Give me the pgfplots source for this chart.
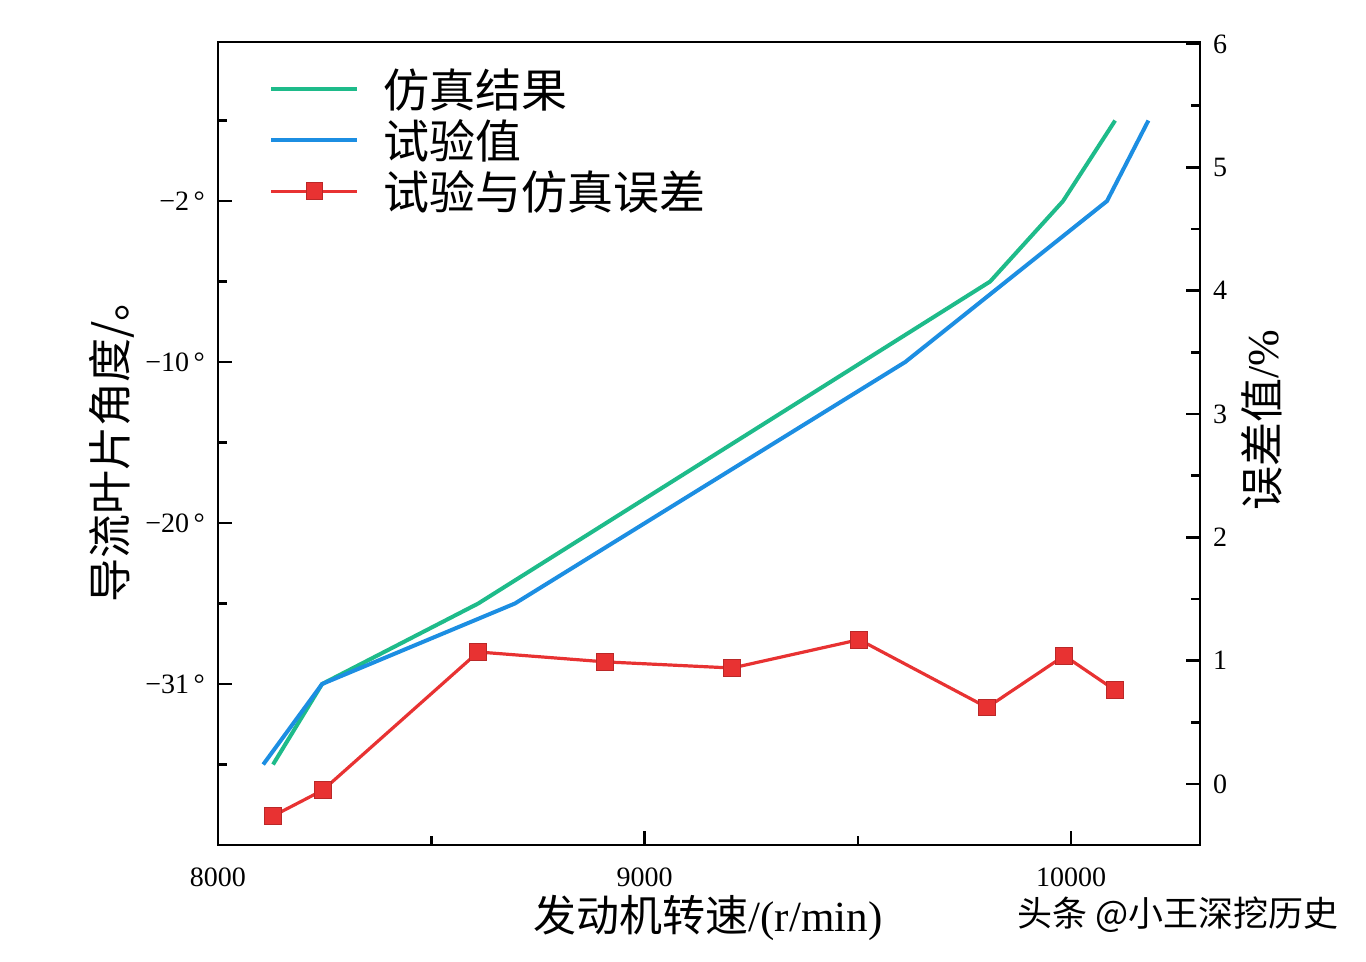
\documentclass[border=0pt]{standalone}
\usepackage{fontspec}
\setmainfont{Liberation Serif}
\newfontfamily\cjk{Noto Sans CJK SC}
\usepackage{pgfplots}
\pgfplotsset{compat=1.18}
\definecolor{simgreen}{RGB}{30,187,138}
\definecolor{expblue}{RGB}{28,142,226}
\definecolor{errred}{RGB}{232,50,50}
\begin{document}
\begin{tikzpicture}
\path[use as bounding box] (-109pt,-58.5pt) rectangle (574pt,422.5pt);
\pgfplotsset{
  common/.style={
    at={(0,0)}, anchor=south west,
    scale only axis, width=491pt, height=401.5pt,
    xmin=8000, xmax=10302,
    tick align=inside, major tick length=7pt, minor tick length=4.5pt,
    axis line style={line width=1.3pt},
    every tick/.style={black, line width=1.3pt},
    tick label style={font=\fontsize{14}{16}\selectfont},
    scaled ticks=false,
    /pgf/number format/assume math mode=true,
    /pgf/number format/set thousands separator={},
    clip=false,
  }
}
\begin{axis}[common,
  ymin=0, ymax=4.988,
  xtick pos=bottom, ytick pos=left,
  xtick={8000,9000,10000}, minor xtick={8500,9500},
  ytick={1,2,3,4}, yticklabels={−31\,°,−20\,°,−10\,°,−2\,°},
  minor ytick={0.5,1.5,2.5,3.5,4.5},
  xticklabel style={yshift=-8pt},
  yticklabel style={xshift=-3pt},
  xlabel={{\cjk 发动机转速}/(r/min)},
  xlabel style={at={(axis description cs:0.499,-0.091)}, anchor=center, font=\fontsize{21.5}{23}\selectfont},
  ylabel={\cjk 导流叶片角度/。},
  ylabel style={at={(axis description cs:-0.108,0.504)}, anchor=center, rotate=0, font=\fontsize{22}{24}\selectfont},
]
\addplot[simgreen, line width=2pt] coordinates {
  (8129,0.5) (8244,1.0) (8610,1.5) (9810,3.5) (9981,4.0) (10103,4.5)
};
\addplot[expblue, line width=2pt] coordinates {
  (8106,0.5) (8244,1.0) (8696,1.5) (9611,3.0) (10084,4.0) (10181,4.5)
};
\end{axis}
\begin{axis}[common,
  ymin=-0.495, ymax=6.016,
  axis x line=none, axis y line*=right,
  ytick={0,1,2,3,4,5,6}, minor ytick={0.5,1.5,2.5,3.5,4.5,5.5},
  yticklabel style={xshift=3pt},
  ylabel={{\cjk 误差值}/\%},
  ylabel style={at={(axis description cs:1.063,0.529)}, anchor=center, rotate=0, font=\fontsize{22}{24}\selectfont},
  legend style={at={(axis description cs:0.052,0.975)}, anchor=north west, draw=none, fill=none,
    font=\cjk\fontsize{23}{26}\selectfont, row sep=-1.5pt, inner sep=0pt,
    nodes={inner sep=3pt}},
  legend cell align=left,
  legend image code/.code={
    \draw[mark repeat=2,mark phase=2,#1] plot coordinates {(0pt,0pt) (21.5pt,0pt) (43pt,0pt)};
  },
  /tikz/every odd column/.append style={column sep=9pt},
]
\addlegendimage{simgreen, line width=2pt}
\addlegendentry{仿真结果}
\addlegendimage{expblue, line width=2pt}
\addlegendentry{试验值}
\addplot[errred, line width=1.6pt, mark=square*, mark size=4.2pt, mark options={solid, fill=errred, draw=errred!80!black, line width=0.5pt}] coordinates {
  (8129,-0.26) (8246,-0.05) (8610,1.07) (8907,0.99) (9205,0.94) (9503,1.17) (9803,0.62) (9984,1.04) (10103,0.76)
};
\addlegendentry{试验与仿真误差}
\node[font=\cjk\fontsize{17.5}{19}\selectfont, anchor=center] at (axis description cs:0.978,-0.087) {头条 @小王深挖历史};
\end{axis}
\end{tikzpicture}
\end{document}
